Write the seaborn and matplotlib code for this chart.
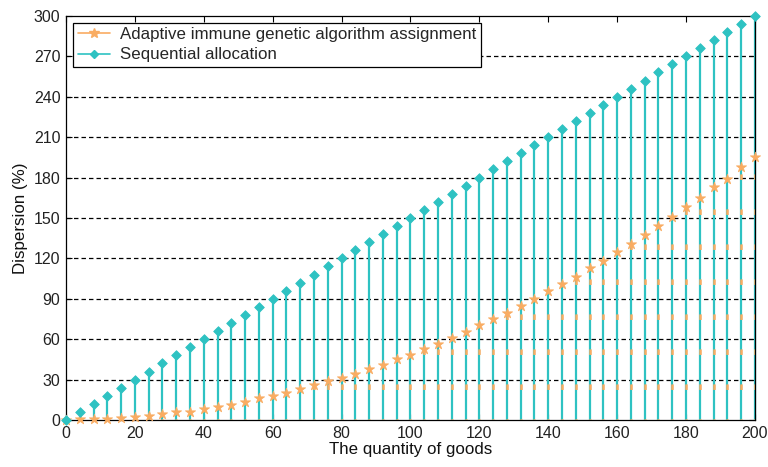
import numpy as np
import pandas as pd
import matplotlib
matplotlib.use("Agg")
import matplotlib.pyplot as plt
from matplotlib.lines import Line2D
from matplotlib.legend_handler import HandlerLine2D
import seaborn as sns

quantity = [0, 4, 8, 12, 16, 20, 24, 28, 32, 36, 40, 44, 48, 52, 56, 60, 64, 68, 72, 76,
            80, 84, 88, 92, 96, 100, 104, 108, 112, 116, 120, 124, 128, 132, 136, 140,
            144, 148, 152, 156, 160, 164, 168, 172, 176, 180, 184, 188, 192, 196, 200]
sequential = [0, 6, 12, 18, 24, 30, 36, 42, 48, 54, 60, 66, 72, 78, 84, 90, 96, 102, 108, 114,
              120, 126, 132, 138, 144, 150, 156, 162, 168, 174, 180, 186, 192, 198, 204, 210,
              216, 222, 228, 234, 240, 246, 252, 258, 264, 270, 276, 282, 288, 294, 300]
adaptive = [0, 0.5, 0.5, 0.5, 1.8, 2.3, 3, 4.6, 5.6, 6.2, 8.5, 9.3, 11.5, 13.2, 16, 18, 20, 23, 26, 29,
            31.5, 34, 38, 41, 45, 48, 52.6, 56.8, 61, 65, 70.5, 74.7, 79.7, 84.6, 89.8, 95.5,
            100.7, 106.5, 112.7, 118, 124.6, 130.8, 137, 143.7, 151, 157.8, 164.8, 172.7, 179, 187.8, 195.3]

label_a = "Adaptive immune genetic algorithm assignment"
label_s = "Sequential allocation"
teal = "#2EC2C2"
orange = "#F9AC62"

df = pd.DataFrame({"q": quantity, "seq": sequential, "ada": adaptive})

sns.set_style("ticks")
plt.rcParams["font.family"] = ["Liberation Sans", "DejaVu Sans"]
plt.rcParams["lines.scale_dashes"] = False

FS = 11.5
FL = 12.2

fig = plt.figure(figsize=(7.68, 4.67), dpi=100)
ax = fig.add_axes([0.086, 0.1006, 0.897, 0.8654])

ax.set_xlim(0, 200)
ax.set_ylim(0, 300)
ax.set_yticks(np.arange(0, 301, 30))
ax.set_xticks(np.arange(0, 201, 20))
for y in np.arange(30, 300, 30):
    ax.axhline(y, color="black", lw=0.9, ls=(0, (3.2, 2.2)), zorder=1)

# stems
ax.vlines(df["q"], 0, df["seq"], color=teal, lw=1.6, zorder=2, clip_on=False)
ax.vlines(df["q"], 0, df["ada"], color=orange, lw=1.8, zorder=3,
          linestyles=[(3.2, (4.0, 21.2))])

sns.scatterplot(data=df, x="q", y="ada", ax=ax, marker="*", s=60, color=orange,
                edgecolor=orange, linewidth=0.5, zorder=4, clip_on=False, legend=False)
sns.scatterplot(data=df, x="q", y="seq", ax=ax, marker="D", s=24, color=teal,
                edgecolor=teal, linewidth=0.6, zorder=5, clip_on=False, legend=False)

ax.tick_params(direction="in", top=True, right=True, labelsize=FS, length=4,
               color="black", labelcolor="#222222", pad=4)
for sp in ax.spines.values():
    sp.set_color("black")
    sp.set_linewidth(0.9)

ax.set_xlabel("The quantity of goods", fontsize=FL, labelpad=1, color="#111111")
ax.set_ylabel("Dispersion (%)", fontsize=FL, labelpad=4, color="#111111")


class RightMarker(HandlerLine2D):
    def get_xdata(self, legend, xdescent, ydescent, width, height, fontsize):
        xdata = np.array([-xdescent, -xdescent + width])
        return xdata, np.array([-xdescent + width * 0.85])


handles = [Line2D([], [], color=orange, marker="*", markersize=7, lw=1.2),
           Line2D([], [], color=teal, marker="D", markersize=4, lw=1.2)]
leg = ax.legend(handles, [label_a, label_s], loc="upper left", fontsize=FL,
                frameon=True, fancybox=False, edgecolor="black", framealpha=1,
                borderaxespad=0.4, handlelength=1.9, handletextpad=0.6,
                borderpad=0.28, labelspacing=0.3,
                handler_map={Line2D: RightMarker(numpoints=1)})
leg.get_frame().set_linewidth(0.9)

fig.savefig("out.png", dpi=100)
